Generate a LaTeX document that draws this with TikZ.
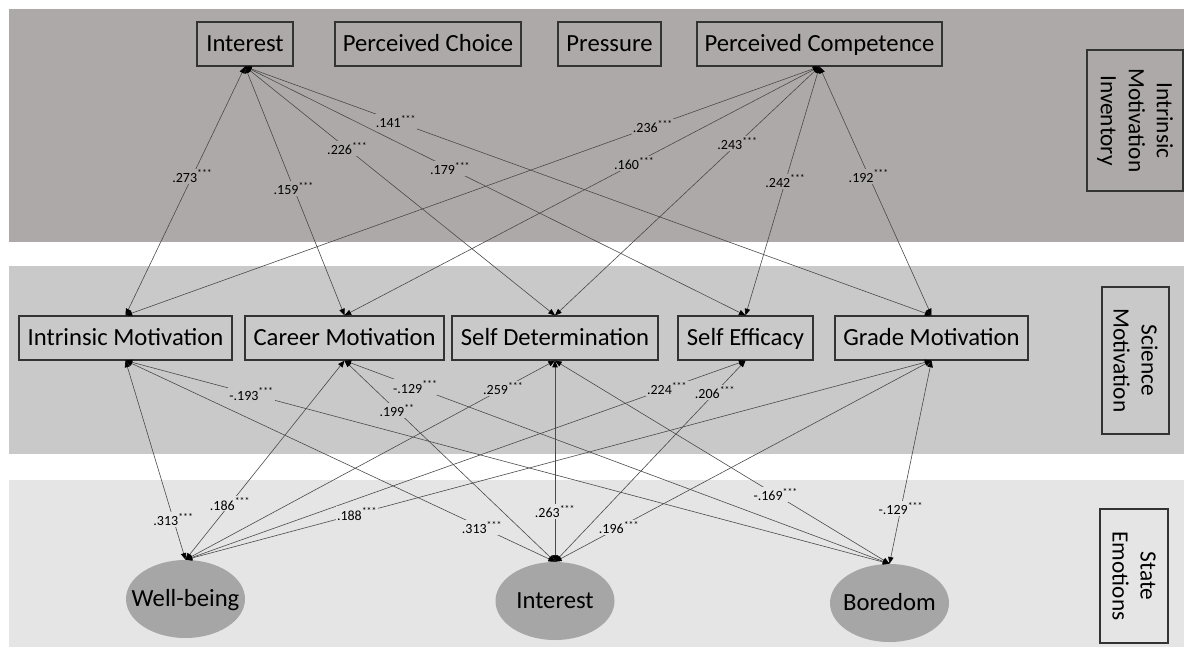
\documentclass[tikz,border=0pt]{standalone}
\usepackage{fontspec}
\setmainfont{Carlito}
\usepackage{tikz}
\usetikzlibrary{shapes}
\usetikzlibrary{arrows.meta}
\definecolor{bandtop}{HTML}{ADA9A8}
\definecolor{bandmid}{HTML}{C9C9C9}
\definecolor{bandlow}{HTML}{E5E5E5}
\definecolor{emofill}{HTML}{A6A6A6}
\definecolor{edgegray}{HTML}{4A4A4A}
\newcommand{\sigval}[2]{#1\textsuperscript{#2}}
\tikzstyle{construct}=[rectangle,draw=black!80,line width=0.9pt,minimum height=33pt,inner sep=0pt,text height=12pt,text depth=1pt,font=\fontsize{18.5}{21}\selectfont]
\tikzstyle{emotion}=[ellipse,fill=emofill,minimum width=89.25pt,minimum height=58.5pt,inner xsep=-12pt,inner ysep=0pt,text height=12pt,text depth=1pt,font=\fontsize{18.5}{21}\selectfont]
\tikzstyle{tag}=[rectangle,draw=black!80,line width=0.9pt,rotate=-90,align=center,inner sep=0pt,font=\fontsize{17.5}{21}\selectfont]
\tikzstyle{link}=[{Triangle[length=5pt,width=4pt,color=black]}-{Triangle[length=5pt,width=4pt,color=black]},draw=edgegray,line width=0.45pt]
\tikzstyle{coefT}=[fill=bandtop,inner sep=1pt,font=\fontsize{10.5}{12}\selectfont]
\tikzstyle{coefM}=[fill=bandmid,inner sep=1pt,font=\fontsize{10.5}{12}\selectfont]
\tikzstyle{coefL}=[fill=bandlow,inner sep=1pt,font=\fontsize{10.5}{12}\selectfont]

\begin{document}
\begin{tikzpicture}[x=0.75pt,y=-0.75pt]
    \useasboundingbox (0,0) rectangle (1184,648);
    % bands
    \fill[bandtop] (9,9) rectangle (1184,242);
    \fill[bandmid] (9,266) rectangle (1184,454);
    \fill[bandlow] (9,480) rectangle (1184,647);
    % intrinsic motivation inventory
    \node[construct,minimum width=72pt] at (245,44) (intT) {Interest};
    \node[construct,minimum width=139.5pt] at (428,44) (choiceT) {Perceived Choice};
    \node[construct,minimum width=77.25pt] at (609.5,44) (pressT) {Pressure};
    \node[construct,minimum width=183.75pt] at (819.5,44) (compT) {Perceived Competence};
    % science motivation
    \node[construct,minimum width=159.75pt] at (125.5,338) (intrM) {Intrinsic Motivation};
    \node[construct,minimum width=149.25pt] at (344.5,338) (careerM) {Career Motivation};
    \node[construct,minimum width=154.5pt] at (555,338) (detM) {Self Determination};
    \node[construct,minimum width=101.25pt] at (745.5,338) (effM) {Self Efficacy};
    \node[construct,minimum width=144.75pt] at (931.5,338) (gradeM) {Grade Motivation};
    % state emotions
    \node[emotion] at (185.5,599) (wellE) {Well-being};
    \node[emotion] at (555,601) (intE) {Interest};
    \node[emotion] at (889.5,603) (boreE) {Boredom};
    % band tags
    \node[tag,minimum width=105.75pt,minimum height=72pt] at (1135,120.5) (imiTag) {Intrinsic\\Motivation\\Inventory};
    \node[tag,minimum width=110.25pt,minimum height=50.25pt] at (1135.5,360.5) (smTag) {Science\\Motivation};
    \node[tag,minimum width=100.5pt,minimum height=51pt] at (1134,576) (seTag) {State\\Emotions};
    % top paths
    \draw[link] (intT.south) to node[coefT,pos=.44] {\sigval{.273}{***}} (intrM.north);
    \draw[link] (intT.south) to node[coefT,pos=.49] {\sigval{.159}{***}} (careerM.north);
    \draw[link] (intT.south) to node[coefT,pos=.33] {\sigval{.226}{***}} (detM.north);
    \draw[link] (intT.south) to node[coefT,pos=.41] {\sigval{.179}{***}} (effM.north);
    \draw[link] (intT.south) to node[coefT,pos=.22] {\sigval{.141}{***}} (gradeM.north);
    \draw[link] (compT.south) to node[coefT,pos=.24] {\sigval{.236}{***}} (intrM.north);
    \draw[link] (compT.south) to node[coefT,pos=.39] {\sigval{.160}{***}} (careerM.north);
    \draw[link] (compT.south) to node[coefT,pos=.31] {\sigval{.243}{***}} (detM.north);
    \draw[link] (compT.south) to node[coefT,pos=.46] {\sigval{.242}{***}} (effM.north);
    \draw[link] (compT.south) to node[coefT,pos=.44] {\sigval{.192}{***}} (gradeM.north);
    % bottom paths
    \draw[link] (intrM.south) to node[coefL,pos=.80] {\sigval{.313}{***}} (wellE.north);
    \draw[link] (careerM.south) to node[coefL,pos=.72] {\sigval{.186}{***}} (wellE.north);
    \draw[link] (detM.south) to node[coefM,pos=.14] {\sigval{.259}{***}} (wellE.north);
    \draw[link] (effM.south) to node[coefM,pos=.14] {\sigval{.224}{***}} (wellE.north);
    \draw[link] (gradeM.south) to node[coefL,pos=.77] {\sigval{.188}{***}} (wellE.north);
    \draw[link] (intrM.south) to node[coefL,pos=.83] {\sigval{.313}{***}} (intE.north);
    \draw[link] (careerM.south) to node[coefM,pos=.25] {\sigval{.199}{**}} (intE.north);
    \draw[link] (detM.south) to node[coefL,pos=.75] {\sigval{.263}{***}} (intE.north);
    \draw[link] (effM.south) to node[coefM,pos=.16] {\sigval{.206}{***}} (intE.north);
    \draw[link] (gradeM.south) to node[coefL,pos=.83] {\sigval{.196}{***}} (intE.north);
    \draw[link] (intrM.south) to node[coefM,pos=.165] {\sigval{-.193}{***}} (boreE.north);
    \draw[link] (careerM.south) to node[coefM,pos=.13] {\sigval{-.129}{***}} (boreE.north);
    \draw[link] (detM.south) to node[coefL,pos=.66] {\sigval{-.169}{***}} (boreE.north);
    \draw[link] (gradeM.south) to node[coefL,pos=.73] {\sigval{-.129}{***}} (boreE.north);
\end{tikzpicture}
\end{document}
